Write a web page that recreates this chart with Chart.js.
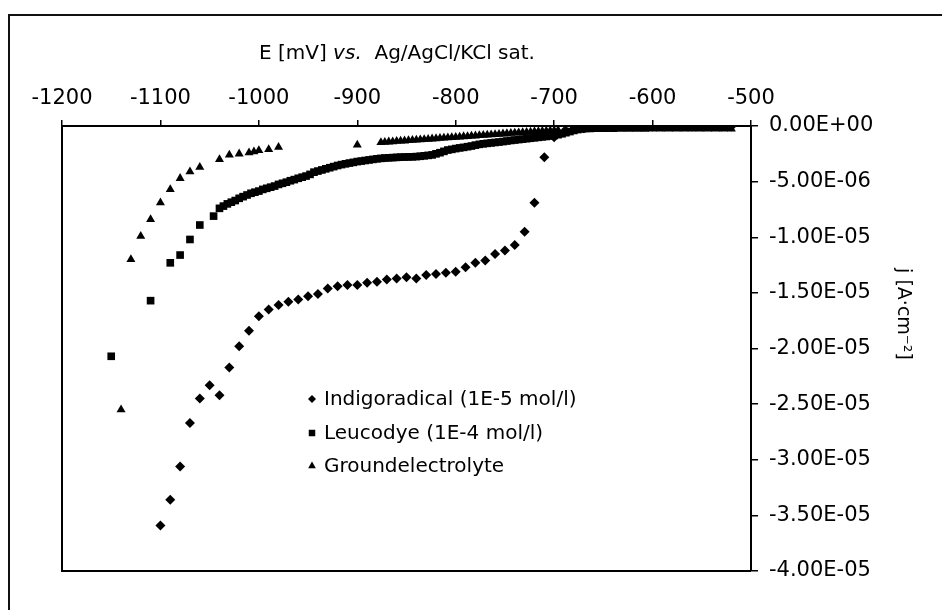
<!DOCTYPE html>
<html>
<head>
<meta charset="utf-8">
<title>Polarisation curves</title>
<script src="https://cdn.jsdelivr.net/npm/chart.js@4.4.1/dist/chart.umd.min.js"></script>
<style>
  html, body { margin: 0; padding: 0; background: #fff; }
  #wrap { position: relative; width: 942px; height: 610px; }
</style>
</head>
<body>
<div id="wrap"><canvas id="chart" width="942" height="610"></canvas></div>
<script>
// Potential E [mV] and current density j [µA/cm²]
const indigoE = [-1100, -1090, -1080, -1070, -1060, -1050, -1040, -1030, -1020, -1010,
  -1000, -990, -980, -970, -960, -950, -940, -930, -920, -910,
  -900, -890, -880, -870, -860, -850, -840, -830, -820, -810,
  -800, -790, -780, -770, -760, -750, -740, -730, -720, -710,
  -700, -690, -680, -670, -660, -650, -640, -630, -620, -610,
  -600, -590, -580, -570, -560, -550, -540, -530, -520];
const indigoJ = [-35.9, -33.6, -30.6, -26.7, -24.5, -23.3, -24.2, -21.7, -19.8, -18.4,
  -17.1, -16.5, -16.1, -15.8, -15.6, -15.3, -15.1, -14.6, -14.4, -14.3,
  -14.3, -14.1, -14.0, -13.8, -13.7, -13.6, -13.7, -13.4, -13.3, -13.2,
  -13.1, -12.7, -12.3, -12.1, -11.5, -11.2, -10.7, -9.5, -6.9, -2.8,
  -1.0, -0.5, -0.3, -0.2, -0.1, 0.05, -0.05, -0.05, -0.05, -0.05,
  -0.05, -0.05, -0.05, -0.05, -0.05, -0.05, -0.05, -0.05, -0.05];

const leucoE = [-1150, -1110, -1090, -1080, -1070, -1060, -1046,
  -1040, -1036, -1032, -1028, -1024, -1020, -1016, -1012, -1008, -1004,
  -1000, -996, -992, -988, -984, -980, -976, -972, -968, -964,
  -960, -956, -952, -948, -944, -940, -936, -932, -928, -924,
  -920, -916, -912, -908, -904, -900, -896, -892, -888, -884,
  -880, -876, -872, -868, -864, -860, -856, -852, -848, -844,
  -840, -836, -832, -828, -824, -820, -816, -812, -808, -804,
  -800, -796, -792, -788, -784, -780, -776, -772, -768, -764,
  -760, -756, -752, -748, -744, -740, -736, -732, -728, -724,
  -720, -716, -712, -708, -704, -700, -696, -692, -688, -684,
  -680, -676, -672, -668, -664, -660, -656, -652,
  -644, -636, -628, -620, -612, -604, -596, -588,
  -580, -572, -564, -556, -548, -540, -532, -524];
const leucoJ = [-20.7, -15.7, -12.3, -11.6, -10.2, -8.9, -8.1,
  -7.4, -7.2, -7.0, -6.85, -6.7, -6.5, -6.35, -6.2, -6.05, -5.95,
  -5.85, -5.7, -5.6, -5.5, -5.4, -5.25, -5.15, -5.05, -4.92, -4.82,
  -4.7, -4.6, -4.5, -4.35, -4.15, -4.05, -3.95, -3.85, -3.75, -3.65,
  -3.55, -3.47, -3.4, -3.33, -3.27, -3.2, -3.15, -3.1, -3.05, -3.0,
  -2.95, -2.91, -2.88, -2.86, -2.84, -2.82, -2.8, -2.79, -2.78, -2.77,
  -2.75, -2.72, -2.68, -2.64, -2.6, -2.5, -2.4, -2.28, -2.16, -2.1,
  -2.03, -1.97, -1.92, -1.86, -1.8, -1.72, -1.65, -1.6, -1.56, -1.52,
  -1.48, -1.44, -1.4, -1.35, -1.3, -1.26, -1.22, -1.18, -1.14, -1.1,
  -1.06, -1.02, -0.98, -0.94, -0.9, -0.85, -0.78, -0.7, -0.6, -0.5,
  -0.4, -0.32, -0.26, -0.22, -0.18, -0.15, -0.13, -0.12,
  -0.1, -0.1, -0.1, -0.1, -0.1, -0.1, -0.1, -0.1,
  -0.1, -0.1, -0.1, -0.1, -0.1, -0.1, -0.1, -0.1];

const groundE = [-1140, -1130, -1120, -1110, -1100, -1090, -1080, -1070, -1060,
  -1040, -1030, -1020, -1010, -1005, -1000, -990, -980, -900,
  -876, -872, -868, -864, -860, -856, -852, -848, -844,
  -840, -836, -832, -828, -824, -820, -816, -812, -808, -804,
  -800, -796, -792, -788, -784, -780, -776, -772, -768, -764,
  -760, -756, -752, -748, -744, -740, -736, -732, -728, -724,
  -720, -716, -712, -708, -704, -700,
  -696, -688, -680, -672, -664, -656, -648, -640, -632, -624,
  -616, -608, -600, -592, -584, -576, -568, -560, -552, -544,
  -536, -528, -520];
const groundJ = [-25.5, -12.0, -9.9, -8.4, -6.9, -5.7, -4.7, -4.1, -3.7,
  -3.0, -2.6, -2.5, -2.4, -2.3, -2.2, -2.1, -1.9, -1.7,
  -1.47, -1.45, -1.42, -1.4, -1.37, -1.35, -1.33, -1.3, -1.28,
  -1.25, -1.23, -1.2, -1.18, -1.15, -1.13, -1.1, -1.08, -1.05, -1.03,
  -1.0, -0.98, -0.95, -0.93, -0.9, -0.88, -0.85, -0.83, -0.8, -0.78,
  -0.75, -0.73, -0.7, -0.68, -0.65, -0.63, -0.6, -0.58, -0.55, -0.53,
  -0.5, -0.48, -0.46, -0.44, -0.42, -0.4,
  -0.38, -0.36, -0.35, -0.33, -0.32, -0.31, -0.3, -0.3, -0.29, -0.29,
  -0.28, -0.28, -0.27, -0.27, -0.26, -0.26, -0.26, -0.25, -0.25, -0.25,
  -0.25, -0.25, -0.25];

const seriesNames = ['Indigoradical (1E-5 mol/l)', 'Leucodye (1E-4 mol/l)', 'Groundelectrolyte'];

// axis ranges
const xMin = -1200, xMax = -500, xStep = 100;
const yMin = -4e-5, yMax = 0, yStep = 5e-6;

const FONT = "'DejaVu Sans', 'Liberation Sans', sans-serif";
const R_DIAMOND = 5, R_SQUARE = 5.4, R_TRIANGLE = 5.2;

const toPoints = (es, js) => es.map((e, i) => ({ x: e, y: js[i] * 1e-6 }));

// Excel style scientific labels, e.g. -5.00E-06
function sciLabel(v) {
  if (Math.abs(v) < 1e-12) return '0.00E+00';
  const parts = v.toExponential(2).split('e');
  const n = parseInt(parts[1], 10);
  return parts[0] + 'E' + (n < 0 ? '-' : '+') + String(Math.abs(n)).padStart(2, '0');
}

function marker(ctx, style, r, x, y) {
  if (window.Chart && Chart.helpers && Chart.helpers.drawPoint) {
    Chart.helpers.drawPoint(ctx, { pointStyle: style, radius: r, rotation: 0, borderWidth: 0 }, x, y);
  }
}

const decorPlugin = {
  id: 'decor',
  afterDraw(chart) {
    const { ctx, chartArea: a } = chart;
    ctx.save();

    // left and bottom sides of the plot box
    ctx.strokeStyle = '#000';
    ctx.lineWidth = 2;
    ctx.beginPath();
    ctx.moveTo(a.left, a.top);
    ctx.lineTo(a.left, a.bottom);
    ctx.lineTo(a.right, a.bottom);
    ctx.stroke();

    // outer frame (only top and left edge are inside the picture)
    ctx.strokeStyle = '#111';
    ctx.beginPath();
    ctx.moveTo(9, 610);
    ctx.lineTo(9, 15);
    ctx.lineTo(942, 15);
    ctx.stroke();

    ctx.fillStyle = '#000';
    ctx.textBaseline = 'alphabetic';

    // x axis title with italic "vs."
    const parts = [['E [mV] ', 'normal'], ['vs.', 'italic'], ['  Ag/AgCl/KCl sat.', 'normal']];
    let tx = 259;
    parts.forEach(([txt, st]) => {
      ctx.font = st + ' 20px ' + FONT;
      ctx.fillText(txt, tx, 59);
      tx += ctx.measureText(txt).width;
    });

    // y axis title, rotated
    ctx.save();
    ctx.translate(905, 314);
    ctx.rotate(Math.PI / 2);
    ctx.font = '19px ' + FONT;
    ctx.textAlign = 'center';
    ctx.fillText('j [A·cm⁻²]', 0, 7);
    ctx.restore();

    // legend inside the plot
    const styles = ['rectRot', 'rect', 'triangle'];
    const radii = [R_DIAMOND * 0.8, R_SQUARE * 0.85, R_TRIANGLE * 0.85];
    const rowsY = [399, 433, 466];
    ctx.font = '20px ' + FONT;
    ctx.textBaseline = 'middle';
    seriesNames.forEach((name, i) => {
      marker(ctx, styles[i], radii[i], 312, rowsY[i]);
      ctx.fillText(name, 324, rowsY[i] + 1);
    });

    ctx.restore();
  }
};

const baseSet = { showLine: false, backgroundColor: '#000', borderColor: '#000', borderWidth: 0, pointHoverRadius: 4 };

new Chart(document.getElementById('chart'), {
  type: 'scatter',
  data: {
    datasets: [
      { ...baseSet, label: seriesNames[2], data: toPoints(groundE, groundJ), pointStyle: 'triangle', pointRadius: R_TRIANGLE },
      { ...baseSet, label: seriesNames[1], data: toPoints(leucoE, leucoJ), pointStyle: 'rect', pointRadius: R_SQUARE },
      { ...baseSet, label: seriesNames[0], data: toPoints(indigoE, indigoJ), pointStyle: 'rectRot', pointRadius: R_DIAMOND }
    ]
  },
  options: {
    responsive: false,
    animation: false,
    devicePixelRatio: 1,
    layout: { padding: { left: 62, right: 0, top: 0, bottom: 39 } },
    plugins: { legend: { display: false }, tooltip: { enabled: false } },
    scales: {
      x: {
        type: 'linear',
        position: 'top',
        min: xMin,
        max: xMax,
        ticks: { stepSize: xStep, color: '#000', font: { family: FONT, size: 21 }, padding: 9, maxRotation: 0, callback: (v) => String(v) },
        grid: { drawOnChartArea: false, drawTicks: true, tickLength: 6, color: '#000', lineWidth: 1.5 },
        border: { display: true, color: '#000', width: 2 },
        afterFit(scale) { scale.height = 126; }
      },
      y: {
        type: 'linear',
        position: 'right',
        min: yMin,
        max: yMax,
        ticks: { stepSize: yStep, color: '#000', font: { family: FONT, size: 21 }, padding: 11, callback: (v) => sciLabel(v) },
        grid: { drawOnChartArea: false, drawTicks: true, tickLength: 7, color: '#000', lineWidth: 1.5 },
        border: { display: true, color: '#000', width: 2 },
        afterFit(scale) { scale.width = 191; }
      }
    }
  },
  plugins: [decorPlugin]
});
</script>
</body>
</html>
